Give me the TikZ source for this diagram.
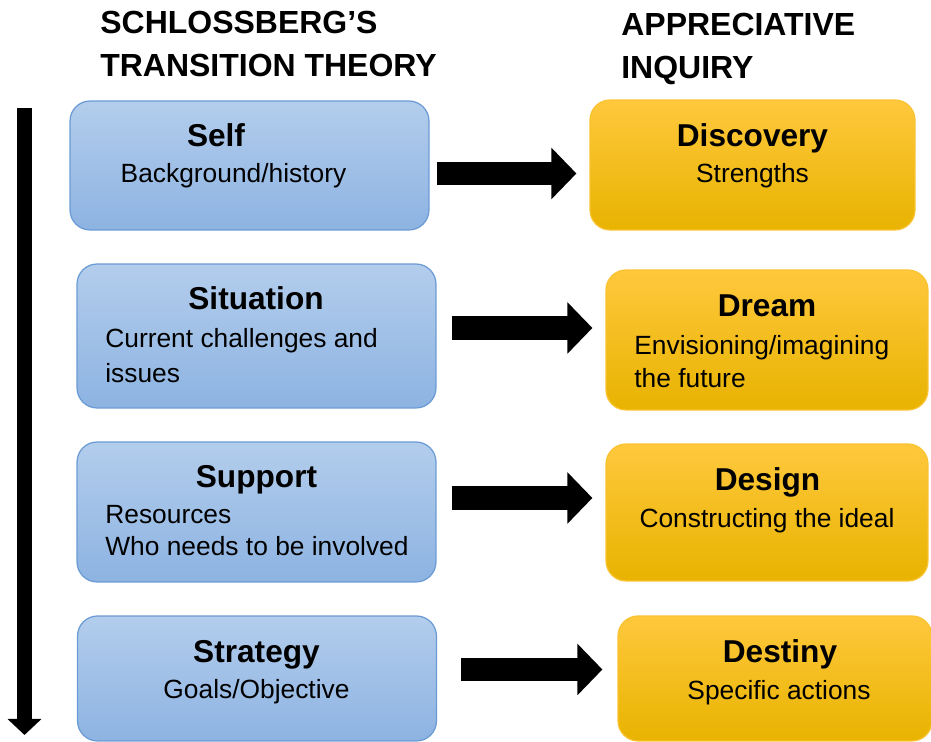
\documentclass[tikz,border=0pt]{standalone}
\usepackage{fontspec}
\setmainfont{Liberation Sans}
\usepackage{tikz}
\usetikzlibrary{arrows.meta}
\definecolor{blueTop}{HTML}{B3CDEC}
\definecolor{blueBot}{HTML}{8DB3E2}
\definecolor{blueLine}{HTML}{6A9BD4}
\definecolor{goldTop}{HTML}{FFC83D}
\definecolor{goldMid}{HTML}{FFC000}
\definecolor{goldBot}{HTML}{E8B300}
\definecolor{goldLine}{HTML}{F9C230}

\begin{document}
\begin{tikzpicture}[x=0.02cm,y=-0.02cm,
  bluebox/.style={draw=blueLine,line width=0.7pt,rounded corners=0.4cm,top color=blueTop,bottom color=blueBot,minimum width=7.18cm},
  goldbox/.style={draw=goldLine,line width=0.7pt,rounded corners=0.4cm,top color=goldTop,middle color=goldMid,bottom color=goldBot},
  title/.style={font=\fontsize{18.2}{21}\selectfont\bfseries,inner sep=0pt,anchor=base west},
  head/.style={font=\fontsize{18}{21}\selectfont\bfseries,inner sep=0pt,anchor=base},
  body/.style={font=\fontsize{15}{17}\selectfont,inner sep=0pt,anchor=base},
  bodyl/.style={body,anchor=base west},
  bigarrow/.style={line width=0.47cm,-{Triangle[length=0.5cm,width=1cm]}},
  downarrow/.style={line width=0.3cm,-{Triangle[length=0.32cm,width=0.66cm]}}]
  \useasboundingbox (0,0) rectangle (931,742);

  \node [bluebox,minimum height=2.58cm] (self) at (249.5,165.5) {};
  \node [bluebox,minimum height=2.88cm] (situation) at (256.5,336) {};
  \node [bluebox,minimum height=2.8cm] (support) at (256.5,512) {};
  \node [bluebox,minimum height=2.5cm] (strategy) at (257,678.5) {};

  \node [goldbox,minimum width=6.5cm,minimum height=2.6cm] (discovery) at (752.5,165) {};
  \node [goldbox,minimum width=6.44cm,minimum height=2.8cm] (dream) at (767,340) {};
  \node [goldbox,minimum width=6.44cm,minimum height=2.74cm] (design) at (767,512.5) {};
  \node [goldbox,minimum width=6.28cm,minimum height=2.5cm] (destiny) at (775,678.5) {};

  \node [title] (ltitle1) at (100,34) {SCHLOSSBERG’S};
  \node [title] (ltitle2) at (100,77) {TRANSITION THEORY};
  \node [title] (rtitle1) at (621,36) {APPRECIATIVE};
  \node [title] (rtitle2) at (621,79) {INQUIRY};

  \node [head] (selfh) at (216,147) {Self};
  \node [body] (self1) at (233.5,183) {Background/history};
  \node [head] (situationh) at (256,310) {Situation};
  \node [bodyl] (situation1) at (105,348) {Current challenges and};
  \node [bodyl] (situation2) at (105,383) {issues};
  \node [head] (supporth) at (256.5,488) {Support};
  \node [bodyl] (support1) at (105,524) {Resources};
  \node [bodyl] (support2) at (105,556) {Who needs to be involved};
  \node [head] (strategyh) at (256.5,663) {Strategy};
  \node [body] (strategy1) at (256.5,699) {Goals/Objective};

  \node [head] (discoveryh) at (752.5,147) {Discovery};
  \node [body] (discovery1) at (752.5,183) {Strengths};
  \node [head] (dreamh) at (767,317) {Dream};
  \node [bodyl] (dream1) at (634,355) {Envisioning/imagining};
  \node [bodyl] (dream2) at (634,388) {the future};
  \node [head] (designh) at (767.5,491) {Design};
  \node [body] (design1) at (767,528) {Constructing the ideal};
  \node [head] (destinyh) at (780,663) {Destiny};
  \node [body] (destiny1) at (779,700) {Specific actions};

  \draw [bigarrow] ([shift={(7,8)}]self.east) -- ([shift={(-13,8.5)}]discovery.west);
  \draw [bigarrow] ([shift={(15,-8)}]situation.east) -- ([shift={(-13,-12)}]dream.west);
  \draw [bigarrow] ([shift={(15,-14)}]support.east) -- ([shift={(-13,-14.5)}]design.west);
  \draw [bigarrow] ([shift={(24,-9)}]strategy.east) -- ([shift={(-15,-9)}]destiny.west);

  \coordinate (timetop) at (24.5,108);
  \coordinate (timebot) at (24.5,735);
  \draw [downarrow] (timetop) -- (timebot);
\end{tikzpicture}
\end{document}
